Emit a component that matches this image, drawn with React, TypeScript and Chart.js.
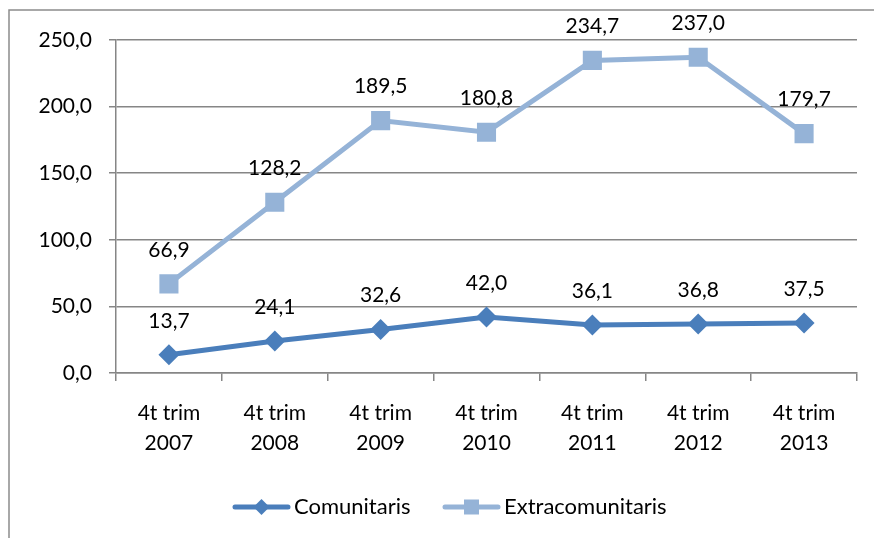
import React, { useEffect, useRef } from "react";
import { Chart, registerables } from "chart.js";

Chart.register(...registerables);

const categories: string[][] = [
  ["4t trim", "2007"],
  ["4t trim", "2008"],
  ["4t trim", "2009"],
  ["4t trim", "2010"],
  ["4t trim", "2011"],
  ["4t trim", "2012"],
  ["4t trim", "2013"],
];
const comunitaris: number[] = [13.7, 24.1, 32.6, 42.0, 36.1, 36.8, 37.5];
const extracomunitaris: number[] = [66.9, 128.2, 189.5, 180.8, 234.7, 237.0, 179.7];
const seriesNames: string[] = ["Comunitaris", "Extracomunitaris"];
const yTicks: number[] = [0, 50, 100, 150, 200, 250];

const COLOR1 = "#4A7EBB";
const COLOR2 = "#95B3D7";
const FONT = "Lato, 'Open Sans', sans-serif";
const FONT_SIZE = 21;
const GRID = "#868686";

const fmt = (v: number) => v.toFixed(1).replace(".", ",");

const framePlugin = {
  id: "frame",
  beforeDraw(chart: any) {
    const ctx = chart.ctx;
    ctx.save();
    ctx.fillStyle = "#ffffff";
    ctx.fillRect(0, 0, chart.width, chart.height);
    ctx.strokeStyle = "#8c8c8c";
    ctx.lineWidth = 1.5;
    ctx.beginPath();
    ctx.moveTo(9, chart.height + 5);
    ctx.lineTo(9, 10);
    ctx.lineTo(chart.width + 5, 10);
    ctx.stroke();
    ctx.restore();
  },
};

const labelsPlugin = {
  id: "valueLabels",
  afterDatasetsDraw(chart: any) {
    const ctx = chart.ctx;
    ctx.save();
    ctx.font = `${FONT_SIZE}px ${FONT}`;
    ctx.fillStyle = "#000000";
    ctx.textAlign = "center";
    ctx.textBaseline = "middle";
    chart.data.datasets.forEach((ds: any, i: number) => {
      const meta = chart.getDatasetMeta(i);
      meta.data.forEach((pt: any, j: number) => {
        ctx.fillText(fmt(ds.data[j]), pt.x, pt.y - 34);
      });
    });
    ctx.restore();
  },
};

const legendPlugin = {
  id: "customLegend",
  afterDraw(chart: any) {
    const ctx = chart.ctx;
    const y = 507;
    const items = [
      { x0: 235, x1: 288, tx: 294, color: COLOR1, style: "diamond" },
      { x0: 445, x1: 498, tx: 504, color: COLOR2, style: "square" },
    ];
    ctx.save();
    items.forEach((it, i) => {
      ctx.strokeStyle = it.color;
      ctx.lineWidth = 5;
      ctx.lineCap = "round";
      ctx.beginPath();
      ctx.moveTo(it.x0, y);
      ctx.lineTo(it.x1, y);
      ctx.stroke();
      ctx.fillStyle = it.color;
      const cx = (it.x0 + it.x1) / 2;
      ctx.beginPath();
      if (it.style === "diamond") {
        const r = 8;
        ctx.moveTo(cx - r, y);
        ctx.lineTo(cx, y - r);
        ctx.lineTo(cx + r, y);
        ctx.lineTo(cx, y + r);
        ctx.closePath();
      } else {
        ctx.rect(cx - 7.5, y - 7.5, 15, 15);
      }
      ctx.fill();
      ctx.fillStyle = "#000000";
      ctx.font = `22px ${FONT}`;
      ctx.textAlign = "left";
      ctx.textBaseline = "middle";
      ctx.fillText(chart.data.datasets[i].label, it.tx, y);
    });
    ctx.restore();
  },
};

export default function App() {
  const canvasRef = useRef<HTMLCanvasElement | null>(null);

  useEffect(() => {
    document.body.style.margin = "0";
    const canvas = canvasRef.current;
    if (!canvas) return;
    const chart = new Chart(canvas, {
      type: "line",
      data: {
        labels: categories,
        datasets: [
          {
            label: seriesNames[0],
            data: comunitaris,
            borderColor: COLOR1,
            backgroundColor: COLOR1,
            borderWidth: 5,
            pointStyle: "rectRot",
            pointRadius: 10.5,
            pointHoverRadius: 10.5,
            pointBorderWidth: 0,
            tension: 0,
          },
          {
            label: seriesNames[1],
            data: extracomunitaris,
            borderColor: COLOR2,
            backgroundColor: COLOR2,
            borderWidth: 5,
            pointStyle: "rect",
            pointRadius: 13.5,
            pointHoverRadius: 13.5,
            pointBorderWidth: 0,
            tension: 0,
          },
        ],
      },
      options: {
        animation: false,
        responsive: false,
        maintainAspectRatio: false,
        events: [],
        layout: { padding: { top: 40, right: 17, left: 0, bottom: 0 } },
        plugins: {
          legend: { display: false },
          tooltip: { enabled: false },
        },
        scales: {
          x: {
            type: "category",
            offset: true,
            grid: {
              offset: true,
              drawOnChartArea: false,
              drawTicks: true,
              tickLength: 8,
              color: GRID,
              lineWidth: 1.5,
            },
            border: { display: true, color: GRID, width: 1.5 },
            ticks: {
              color: "#000000",
              font: { family: FONT, size: FONT_SIZE, lineHeight: 1.43 },
              padding: 17,
              maxRotation: 0,
              autoSkip: false,
            },
            afterFit(scale: any) {
              scale.height = 165;
            },
          },
          y: {
            min: 0,
            max: 250,
            afterBuildTicks(scale: any) {
              scale.ticks = yTicks.map((v) => ({ value: v }));
            },
            grid: {
              color: GRID,
              lineWidth: 1.5,
              drawTicks: true,
              tickLength: 7,
            },
            border: { display: true, color: GRID, width: 1.5 },
            ticks: {
              color: "#000000",
              font: { family: FONT, size: FONT_SIZE },
              padding: 17,
              callback: (v: any) => fmt(Number(v)),
            },
            afterFit(scale: any) {
              scale.width = 116;
            },
          },
        },
      },
      plugins: [framePlugin, labelsPlugin, legendPlugin],
    });
    return () => chart.destroy();
  }, []);

  return (
    <div style={{ position: "absolute", left: 0, top: 0, width: 874, height: 538 }}>
      <canvas ref={canvasRef} width={874} height={538} style={{ width: 874, height: 538 }} />
    </div>
  );
}
